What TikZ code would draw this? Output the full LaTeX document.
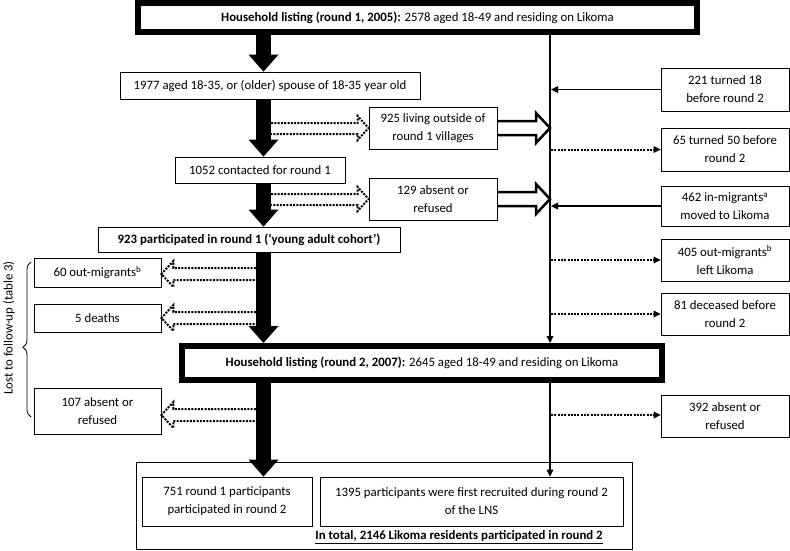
\documentclass[tikz,border=0pt]{standalone}
\usepackage{fontspec}
\setmainfont{Carlito}
\usetikzlibrary{arrows.meta,calc,decorations.pathreplacing}
\begin{document}
\begin{tikzpicture}[x=1pt,y=-1pt,
  txt/.style={font=\fontsize{12.8}{18}\selectfont},
  box/.style={txt, draw, line width=0.8pt, inner sep=0pt, align=center},
  bigbox/.style={txt, draw, line width=6pt, inner sep=0pt, align=center},
  bigarrow/.style={line width=15pt, -{Triangle[length=17pt,width=30pt,line width=0pt]}},
  vline/.style={line width=1.8pt, -{Triangle[length=7pt,width=7pt,line width=0pt]}},
  sarrow/.style={line width=1.5pt, shorten >=1pt, -{Triangle[length=7pt,width=7pt,line width=0pt]}},
  darrow/.style={line width=2pt, dash pattern=on 2pt off 1.3pt, shorten <=1pt, -{Triangle[length=7pt,width=7pt,line width=0pt]}},
  hollow/.style={line width=2.5pt, line join=miter},
  dotblock/.style={line width=2pt, dash pattern=on 2pt off 1.3pt, line join=miter}
]
\useasboundingbox (0,0) rectangle (790,550);

\coordinate (vx) at (550,0);
\coordinate (sx) at (263.5,0);
\coordinate (sxr) at (271,0);
\coordinate (sxl) at (256,0);

% boxes
\node[bigbox, minimum width=559pt, minimum height=29pt] (r1) at (417.5,17.5) {\textbf{Household listing (round 1, 2005):} 2578 aged 18-49 and residing on Likoma};
\node[box, minimum width=300pt, minimum height=27pt] (b1977) at (270,85.5) {1977 aged 18-35, or (older) spouse of 18-35 year old};
\node[box, minimum width=128pt, minimum height=42pt] (b925) at (433,128) {925 living outside of\\round 1 villages};
\node[box, minimum width=128pt, minimum height=43pt] (b221) at (725,89.5) {221 turned 18\\before round 2};
\node[box, minimum width=128pt, minimum height=43pt] (b65) at (725,149.5) {65 turned 50 before\\round 2};
\node[box, minimum width=170pt, minimum height=26pt] (b1052) at (260,170) {1052 contacted for round 1};
\node[box, minimum width=128pt, minimum height=42pt] (b129) at (433,199) {129 absent or\\refused};
\node[box, minimum width=128pt, minimum height=40pt] (b462) at (725,206) {462 in-migrants\textsuperscript{a}\\moved to Likoma};
\node[box, minimum width=302pt, minimum height=25pt] (b923) at (249,239.5) {\textbf{923 participated in round 1 (‘young adult cohort’)}};
\node[box, minimum width=127pt, minimum height=29pt] (b60) at (97.5,272.5) {60 out-migrants\textsuperscript{b}};
\node[box, minimum width=127pt, minimum height=28pt] (b5) at (97.5,318) {5 deaths};
\node[box, minimum width=128pt, minimum height=42pt] (b405) at (725,260) {405 out-migrants\textsuperscript{b}\\left Likoma};
\node[box, minimum width=128pt, minimum height=42pt] (b81) at (725,314) {81 deceased before\\round 2};
\node[bigbox, minimum width=480pt, minimum height=34pt] (r2) at (422,363) {\textbf{Household listing (round 2, 2007):} 2645 aged 18-49 and residing on Likoma};
\node[box, minimum width=127pt, minimum height=46pt] (b107) at (97.5,411) {107 absent or\\refused};
\node[box, minimum width=128pt, minimum height=42pt] (b392) at (725,416) {392 absent or\\refused};
\node[box, minimum width=496pt, minimum height=87pt] (outer) at (384,505.5) {};
\node[box, minimum width=170pt, minimum height=49pt] (b751) at (227,501.5) {751 round 1 participants\\participated in round 2};
\node[box, minimum width=303pt, minimum height=49pt] (b1395) at (471.5,501.5) {1395 participants were first recruited during round 2\\of the LNS};
\node[txt, inner sep=0pt] (total) at (459,537) {\textbf{\underline{In total, 2146 Likoma residents participated in round 2}}};

% big arrows
\draw[bigarrow] (r1.south -| sx) -- (b1977.north -| sx);
\draw[bigarrow] (b1977.south -| sx) -- (b1052.north -| sx);
\draw[bigarrow] (b1052.south -| sx) -- (b923.north -| sx);
\draw[bigarrow] (b923.south -| sx) -- (r2.north -| sx);
\draw[bigarrow] (r2.south -| sx) -- (b751.north -| sx);

% vertical line
\draw[vline] (r1.south -| vx) -- (r2.north -| vx);
\draw[vline] (r2.south -| vx) -- (b1395.north -| vx);

% right side arrows
\draw[sarrow] (b221.west) -- (b221.west -| vx);
\draw[sarrow] (b462.west) -- (b462.west -| vx);
\draw[darrow] (b65.west -| vx) -- (b65.west);
\draw[darrow] (b405.west -| vx) -- (b405.west);
\draw[darrow] (b81.west -| vx) -- (b81.west);
\draw[darrow] (r2.south -| vx) ++(0,32) coordinate (d392) (d392) -- (d392 -| b392.west);

% hollow block arrows
\foreach \b in {b925,b129}{
  \draw[hollow] ($(\b.east)+(0,-7)$) -- ($(\b.east -| vx)+(-14,-7)$) -- ($(\b.east -| vx)+(-14,-15)$)
    -- (\b.east -| vx) -- ($(\b.east -| vx)+(-14,15)$) -- ($(\b.east -| vx)+(-14,7)$) -- ($(\b.east)+(0,7)$);
}

% dotted block arrows to the right
\foreach \b in {b925,b129}{
  \draw[dotblock] ($(\b.west -| sxr)+(0,-5)$) -- ($(\b.west)+(-11,-5)$) -- ($(\b.west)+(-11,-12)$)
    -- ($(\b.west)+(0,0)$) -- ($(\b.west)+(-11,12)$) -- ($(\b.west)+(-11,6)$) -- ($(\b.west -| sxr)+(0,6)$);
}
% dotted block arrows to the left
\foreach \b/\o in {b60/1.5,b5/0,b107/4}{
  \draw[dotblock] ($(\b.east -| sxl)+(0,\o-6)$) -- ($(\b.east)+(12,\o-6)$) -- ($(\b.east)+(12,\o-13)$)
    -- ($(\b.east)+(0,\o)$) -- ($(\b.east)+(12,\o+13)$) -- ($(\b.east)+(12,\o+6)$) -- ($(\b.east -| sxl)+(0,\o+6)$);
}

% brace
\coordinate (brb) at (31,417);
\coordinate (brt) at (31,262);
\draw[line width=0.8pt, decorate, decoration={brace, amplitude=8pt, aspect=0.45}] (brb) -- (brt);
\node[txt, rotate=90, inner sep=0pt] (lost) at (9,328) {Lost to follow-up (table 3)};
\end{tikzpicture}
\end{document}
